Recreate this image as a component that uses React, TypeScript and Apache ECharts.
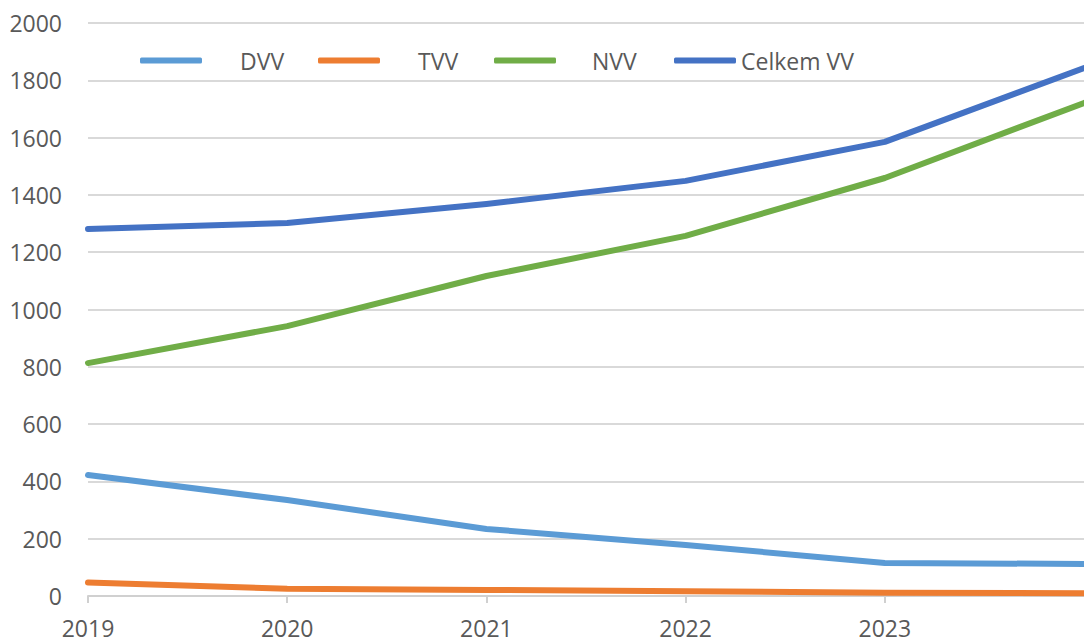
import React, { useEffect, useRef } from "react";
import * as echarts from "echarts";

const years = ["2019", "2020", "2021", "2022", "2023", "2024"];
const dvv = [422, 335, 234, 178, 115, 112];
const tvv = [47, 25, 21, 17, 11, 10];
const nvv = [813, 942, 1117, 1257, 1459, 1721];
const celkem = [1281, 1302, 1368, 1449, 1585, 1843];
const yTicks = [0, 200, 400, 600, 800, 1000, 1200, 1400, 1600, 1800, 2000];

const seriesNames = ["DVV", "TVV", "NVV", "Celkem VV"];
const seriesColors = ["#5b9bd5", "#ed7d31", "#70ad47", "#4472c4"];
const legendLefts = [135, 313, 489, 669];
const legendTextPad = [33, 33, 31, 0];

const FONT = "'Open Sans', sans-serif";
const TXT = "#595959";

export default function App() {
  const ref = useRef<HTMLDivElement>(null);
  useEffect(() => {
    const chart = echarts.init(ref.current!, null, { renderer: "svg" });
    const allData = [dvv, tvv, nvv, celkem];
    const series = seriesNames.map((name, i) => ({
      name,
      type: "line",
      data: allData[i],
      symbol: "none",
      lineStyle: { color: seriesColors[i], width: 6, cap: "round", join: "round" },
      itemStyle: { color: seriesColors[i] },
    }));
    const legends = seriesNames.map((name, i) => ({
      left: legendLefts[i],
      top: 44,
      icon: "roundRect",
      itemWidth: 62,
      itemHeight: 6,
      itemGap: 0,
      selectedMode: false,
      textStyle: {
        color: TXT,
        fontFamily: FONT,
        fontSize: 23,
        padding: [0, 0, 0, legendTextPad[i]],
      },
      data: [name],
    }));
    chart.setOption({
      animation: false,
      backgroundColor: "#ffffff",
      textStyle: { fontFamily: FONT },
      grid: { left: 88, right: 0, top: 23, bottom: 48, containLabel: false },
      legend: legends,
      xAxis: {
        type: "category",
        data: years,
        boundaryGap: false,
        axisLine: { lineStyle: { color: "#d0d0d0", width: 2 } },
        axisTick: {
          show: true,
          length: 7,
          lineStyle: { color: "#d0d0d0", width: 2 },
          interval: (i: number) => i < 5,
        },
        axisLabel: {
          color: TXT,
          fontSize: 23,
          fontFamily: FONT,
          margin: 20,
          interval: (i: number) => i < 5,
        },
        splitLine: { show: false },
      },
      yAxis: {
        type: "value",
        min: yTicks[0],
        max: yTicks[yTicks.length - 1],
        interval: 200,
        axisLine: { show: false },
        axisTick: { show: false },
        axisLabel: {
          color: TXT,
          fontSize: 23,
          fontFamily: FONT,
          margin: 26,
          formatter: (v: number) => String(v),
        },
        splitLine: { lineStyle: { color: "#d9d9d9", width: 2 } },
      },
      series,
    });
    return () => chart.dispose();
  }, []);
  return (
    <div
      ref={ref}
      style={{ position: "absolute", left: 0, top: 0, width: 1084, height: 644, background: "#fff" }}
    />
  );
}
